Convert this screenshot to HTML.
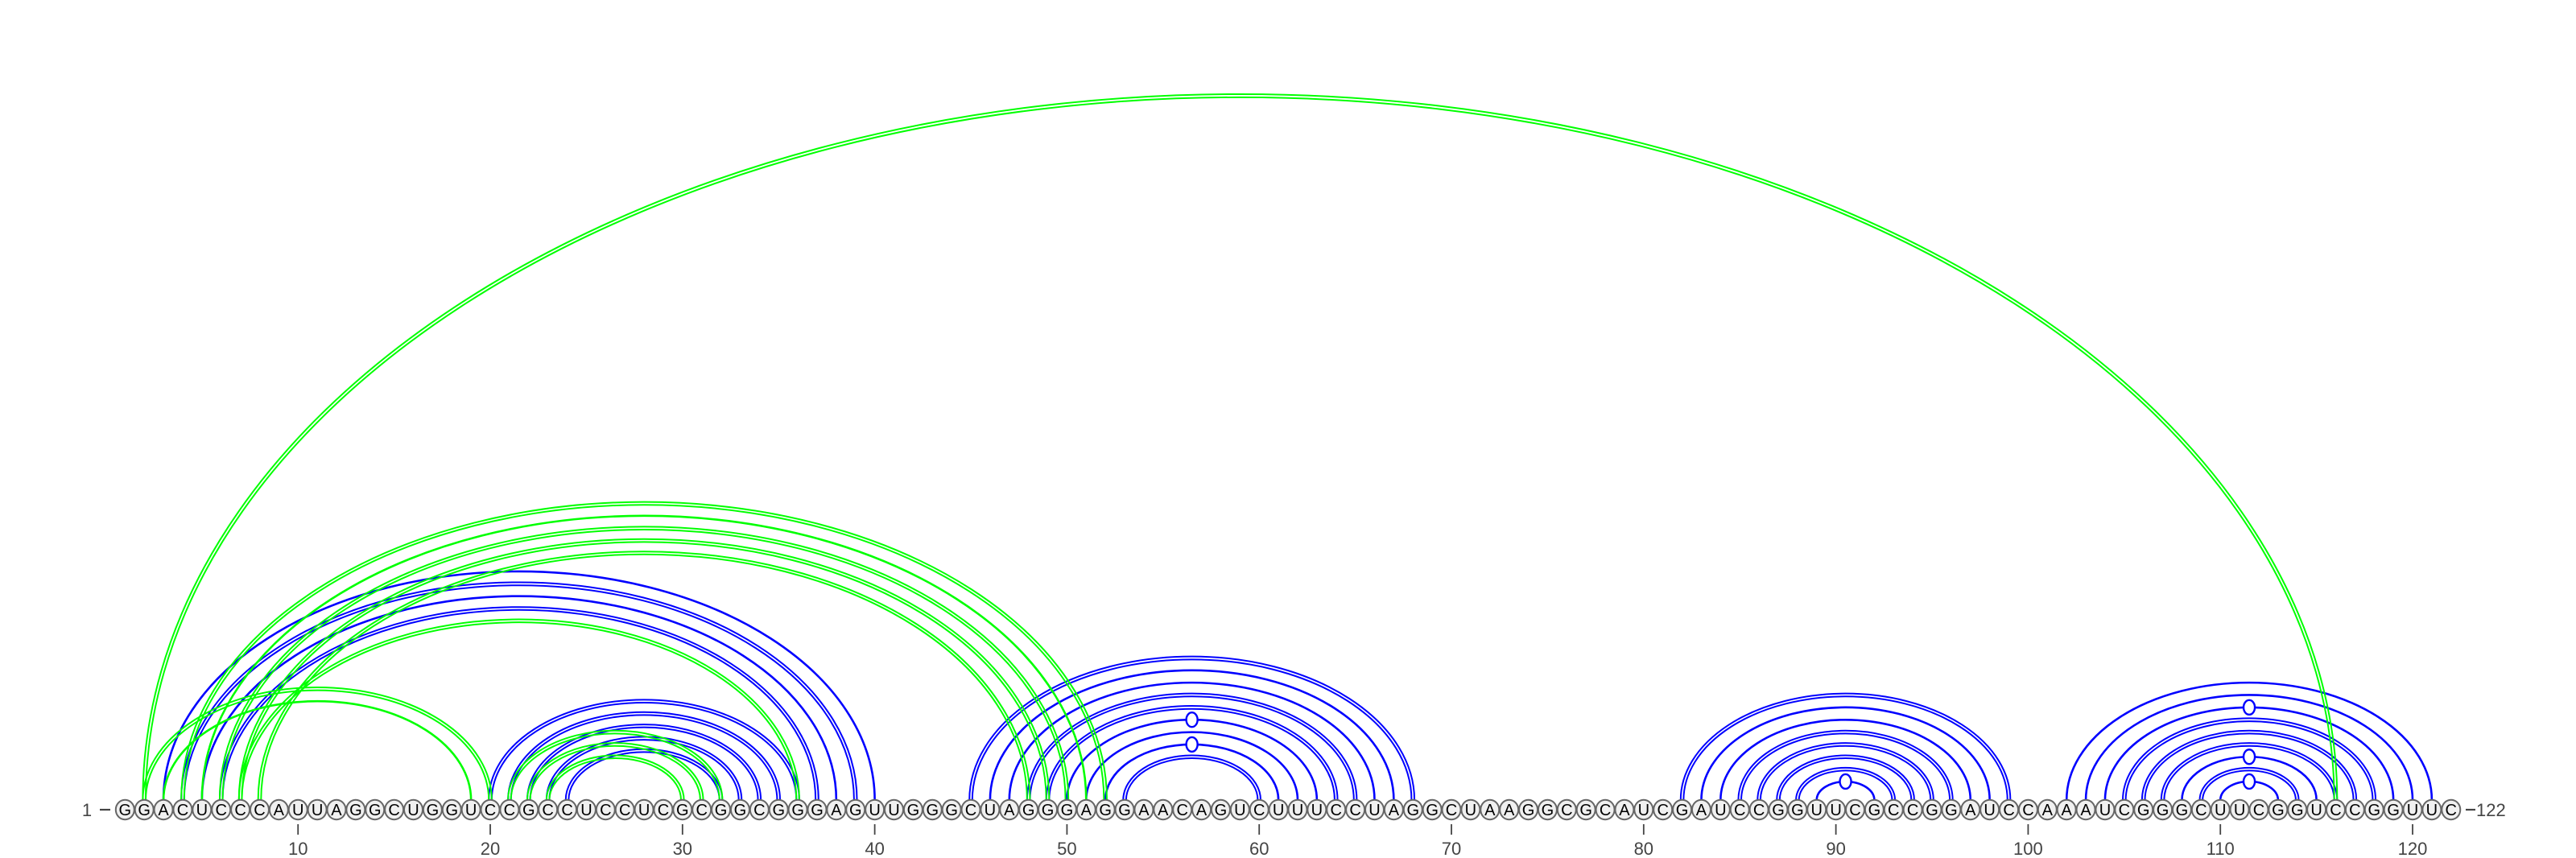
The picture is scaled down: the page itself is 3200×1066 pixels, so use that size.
<!DOCTYPE html>
<html><head><meta charset="utf-8">
<style>
html,body{margin:0;padding:0;background:#fff;}
svg{display:block;}
text{font-family:"Liberation Sans","DejaVu Sans",sans-serif;}
</style></head>
<body>
<svg id="chart" xmlns="http://www.w3.org/2000/svg" width="3200" height="1066" viewBox="0 0 3200 1066">
  <g id="arcs-blue"></g>
  <g id="arcs-green"></g>
  <g id="residues"></g>
  <g id="ticks"></g>
</svg>
<script>
const sequence = "GGACUCCCAUUAGGCUGGUCCGCCUCCUCGCGGCGGGAGUUGGGCUAGGGAGGAACAGUCUUUCCUAGGCUAAGGCGCAUCGAUCCGGUUCGCCGGAUCCAAAUCGGGCUUCGGUCCGGUUC";
const bluePairs = [[3,40],[4,39],[5,38],[6,37],[20,36],[21,35],[22,34],[23,33],[24,32],
  [45,68],[46,67],[47,66],[48,65],[49,64],[50,63],[51,62],[52,61],[53,60],
  [82,99],[83,98],[84,97],[85,96],[86,95],[87,94],[88,93],[89,92],
  [102,121],[103,120],[104,119],[105,118],[106,117],[107,116],[108,115],[109,114],[110,113]];
const greenPairs = [[2,116],[2,20],[3,19],[4,52],[5,51],[6,50],[7,49],[8,48],[7,36],[21,32],[22,31],[23,30]];
const tickPositions = [10,20,30,40,50,60,70,80,90,100,110,120];

const NS = "http://www.w3.org/2000/svg";
const X0 = 155.3, DX = 23.88, FOOT = 994, CY = 1006, RATIO = 0.643;
function xScale(i){ return X0 + (i-1)*DX; }
function mk(tag, attrs, parent){
  const e = document.createElementNS(NS, tag);
  for (const k in attrs) e.setAttribute(k, attrs[k]);
  parent.appendChild(e); return e;
}
function pairType(a,b){
  const s = sequence[a-1]+sequence[b-1];
  if (s==="GC"||s==="CG") return "gc";
  if (s==="GU"||s==="UG") return "gu";
  return "au";
}
function drawArc(p, color, parent){
  const [a,b] = p;
  const xa = xScale(a), xb = xScale(b);
  const cx = (xa+xb)/2, rx = (xb-xa)/2, ry = rx*RATIO;
  const t = pairType(a,b);
  const g = mk("g", {}, parent);
  
  
  const offs = t==="gc" ? [-1.8, 1.8] : [0];
  const sw = t==="gc" ? 2.0 : 2.6;
  offs.forEach(o=>{
    const r1 = rx+o, r2 = ry+o;
    mk("path", {d:`M ${cx-r1} ${FOOT} A ${r1} ${r2} 0 0 1 ${cx+r1} ${FOOT}`, fill:"none", stroke:color, "stroke-width":sw}, g);
  });
  if (t==="gu"){
    const c = mk("ellipse", {cx:cx, cy:FOOT-ry, rx:7, ry:9, fill:"#fff", stroke:color, "stroke-width":2.4}, g);
    
    
  }
}
const gb = document.getElementById("arcs-blue");
const gg = document.getElementById("arcs-green");
bluePairs.forEach(p=>drawArc(p, "#0000ff", gb));
greenPairs.forEach(p=>drawArc(p, "#00ff00", gg));

const gr = document.getElementById("residues");
for (let i=1;i<=sequence.length;i++){
  const g = mk("g", {}, gr);
  
  
  mk("ellipse", {cx:xScale(i), cy:CY, rx:11.5, ry:12.2, fill:"#f0f0f0", stroke:"#666", "stroke-width":2}, g);
  const t = mk("text", {x:xScale(i), y:CY+7, "text-anchor":"middle", "font-size":20, fill:"#000"}, g);
  t.textContent = sequence[i-1];
}
const st = mk("text", {x:108, y:CY+8, "text-anchor":"middle", "font-size":22, fill:"#444"}, gr);


st.textContent = "1";
mk("line", {x1:124, x2:137, y1:CY, y2:CY, stroke:"#444", "stroke-width":2.2}, gr);
mk("line", {x1:3063, x2:3075, y1:CY, y2:CY, stroke:"#444", "stroke-width":2.2}, gr);
const en = mk("text", {x:3076, y:CY+8, "text-anchor":"start", "font-size":22, fill:"#444"}, gr);


en.textContent = "122";

const gt = document.getElementById("ticks");
tickPositions.forEach(p=>{
  const g = mk("g", {}, gt);
  
  
  mk("line", {x1:xScale(p), x2:xScale(p), y1:1024, y2:1037, stroke:"#444", "stroke-width":1.8}, g);
  const t = mk("text", {x:xScale(p), y:1062, "text-anchor":"middle", "font-size":22, fill:"#444"}, g);
  t.textContent = p;
});
</script>
</body></html>
